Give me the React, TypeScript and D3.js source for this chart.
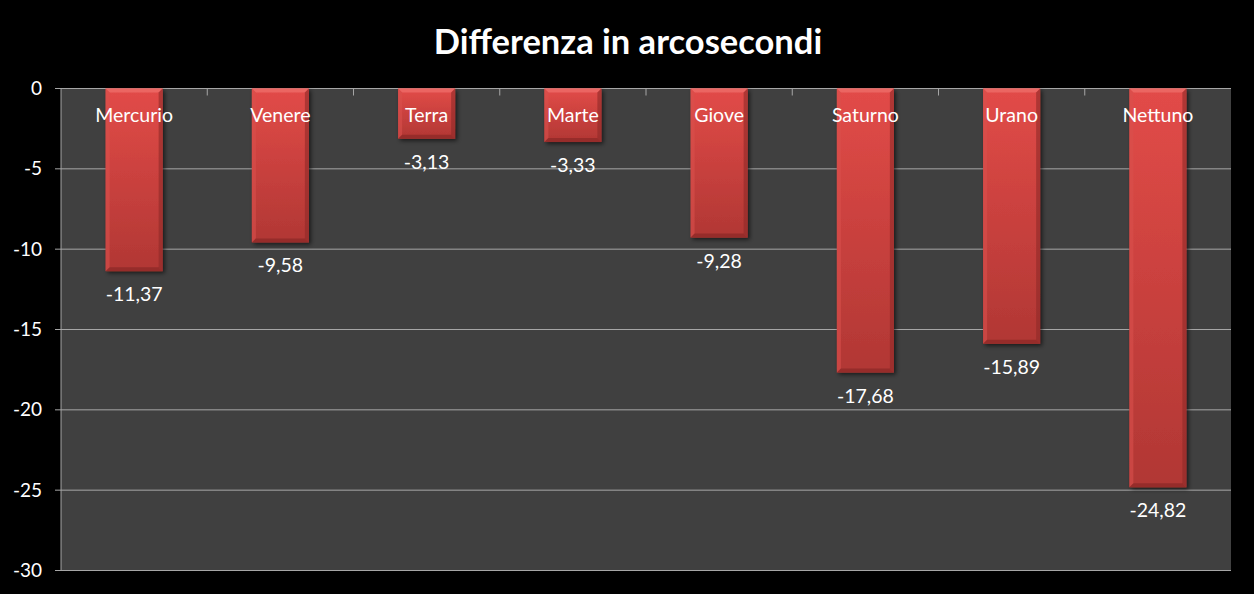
import React from "react";
import * as d3 from "d3";

const planets = ["Mercurio", "Venere", "Terra", "Marte", "Giove", "Saturno", "Urano", "Nettuno"];
const differences = [-11.37, -9.58, -3.13, -3.33, -9.28, -17.68, -15.89, -24.82];
const yTicks = [0, -5, -10, -15, -20, -25, -30];
const title = "Differenza in arcosecondi";

const W = 1254;
const H = 594;
const M = { left: 61, right: 1231, top: 88.5, bottom: 570.5 };
const FONT = "Lato, 'Open Sans', sans-serif";

export default function App() {
  const x = d3.scaleBand<string>().domain(planets).range([M.left, M.right]).paddingInner(0.61).paddingOuter(0.305);
  const y = d3.scaleLinear().domain([0, -30]).range([M.top, M.bottom]);
  const step = x.step();
  const bw = x.bandwidth();
  const fmt = (v: number) => v.toFixed(2).replace(".", ",");

  return (
    <svg width={W} height={H} style={{ position: "absolute", left: 0, top: 0, background: "#000" }}>
      <defs>
        <linearGradient id="barGrad" x1="0" y1="0" x2="0" y2="1">
          <stop offset="0%" stopColor="#e24b48" />
          <stop offset="100%" stopColor="#b13734" />
        </linearGradient>
        <filter id="shadow" x="-20%" y="-20%" width="140%" height="140%">
          <feDropShadow dx="2" dy="2" stdDeviation="2" floodColor="#000" floodOpacity="0.6" />
        </filter>
      </defs>
      <rect x={0} y={0} width={W} height={H} fill="#000" />
      <text x={W / 2 + 1} y={54} textAnchor="middle" fill="#fff" fontFamily={FONT} fontWeight="bold" fontSize={34.5}>
        {title}
      </text>
      <rect x={M.left} y={M.top} width={M.right - M.left} height={M.bottom - M.top} fill="#404040" />
      {yTicks.map((t) => (
        <g key={t}>
          <line x1={M.left - 6} x2={M.right} y1={y(t)} y2={y(t)} stroke="#a6a6a6" strokeWidth={1} />
          <text x={42} y={y(t) + 6.5} textAnchor="end" fill="#fff" fontFamily={FONT} fontSize={19}>
            {t}
          </text>
        </g>
      ))}
      <line x1={M.left} x2={M.left} y1={M.top} y2={M.bottom} stroke="#a6a6a6" strokeWidth={1} />
      {planets.slice(1).map((p) => (
        <line key={p} x1={x(p)! - (step - bw) / 2} x2={x(p)! - (step - bw) / 2} y1={M.top} y2={M.top + 7} stroke="#a6a6a6" strokeWidth={1} />
      ))}
      {planets.map((p, i) => {
        const v = differences[i];
        const x0 = x(p)!;
        const y0 = y(0);
        const y1 = y(v);
        const h = y1 - y0;
        const b = 4;
        return (
          <g key={p}>
            <g filter="url(#shadow)">
              <rect x={x0} y={y0} width={bw} height={h} fill="url(#barGrad)" />
            </g>
            <polygon points={`${x0},${y0} ${x0 + bw},${y0} ${x0 + bw - b},${y0 + b} ${x0 + b},${y0 + b}`} fill="#ee6d69" opacity={0.8} />
            <polygon points={`${x0},${y0} ${x0 + b},${y0 + b} ${x0 + b},${y1 - b} ${x0},${y1}`} fill="#d9504c" opacity={0.6} />
            <polygon points={`${x0 + bw},${y0} ${x0 + bw - b},${y0 + b} ${x0 + bw - b},${y1 - b} ${x0 + bw},${y1}`} fill="#8e2a28" opacity={0.6} />
            <polygon points={`${x0},${y1} ${x0 + b},${y1 - b} ${x0 + bw - b},${y1 - b} ${x0 + bw},${y1}`} fill="#8a2826" opacity={0.7} />
            <text x={x0 + bw / 2} y={122} textAnchor="middle" fill="#fff" fontFamily={FONT} fontSize={19.5}>
              {p}
            </text>
            <text x={x0 + bw / 2} y={y1 + 30} textAnchor="middle" fill="#fff" fontFamily={FONT} fontSize={19.5}>
              {fmt(v)}
            </text>
          </g>
        );
      })}
    </svg>
  );
}
